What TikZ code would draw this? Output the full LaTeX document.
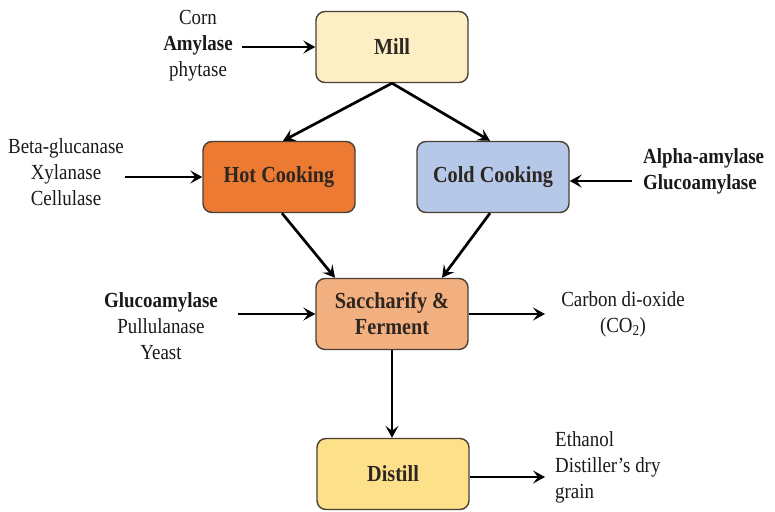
\documentclass[tikz,border=0pt]{standalone}
\usepackage{fontspec}
\setmainfont{Liberation Serif}
\newfontfamily\narrowserif[FakeStretch=0.88,Ligatures=TeX]{Liberation Serif}
\usetikzlibrary{arrows.meta}
\definecolor{millfill}{HTML}{FCEFC6}
\definecolor{hotfill}{HTML}{EC7A33}
\definecolor{coldfill}{HTML}{B5C8E8}
\definecolor{sacfill}{HTML}{F2AF80}
\definecolor{distfill}{HTML}{FDE08A}
\definecolor{boxline}{HTML}{4A3F35}
\definecolor{boxtext}{HTML}{2E2620}
\begin{document}
\begin{tikzpicture}[x=1pt,y=-1pt,
  stage/.style={draw=boxline, line width=1.4pt, rounded corners=9pt,
    minimum width=152pt, minimum height=71pt, inner sep=0pt,
    font=\narrowserif\fontsize{23}{26}\selectfont\bfseries, text=boxtext, align=center},
  label/.style={font=\narrowserif\fontsize{21.5}{26}\selectfont, text=black!90, align=center, inner sep=0pt},
  flow/.style={line width=2.7pt, -{Stealth[length=12pt,width=13pt,inset=5pt]}}]
\useasboundingbox (0,0) rectangle (775,511);

% process stages
\node[stage, fill=millfill] (mill) at (392,47) {Mill};
\node[stage, fill=hotfill] (hot) at (279,177) {Hot Cooking};
\node[stage, fill=coldfill] (cold) at (493,177) {Cold Cooking};
\node[stage, fill=sacfill] (sac) at (392,314) {Saccharify \&\\Ferment};
\node[stage, fill=distfill] (dist) at (393,474) {Distill};

% inputs and outputs
\node[label] (inmill) at (198,46) {Corn\\\textbf{Amylase}\\phytase};
\node[label] (inhot) at (66,172) {Beta-glucanase\\Xylanase\\Cellulase};
\node[label, anchor=west, align=left] (incold) at (643,171) {\textbf{Alpha-amylase}\\\textbf{Glucoamylase}};
\node[label] (insac) at (161,326) {\textbf{Glucoamylase}\\Pullulanase\\Yeast};
\node[label] (outsac) at (623,314) {Carbon di-oxide\\(CO\textsubscript{2})};
\node[label, anchor=west, align=left] (outdist) at (555,467) {Ethanol\\Distiller’s dry\\grain};

% connectors
\coordinate (a1) at (242,47);
\coordinate (a2) at (125,177);
\coordinate (a3) at (632,181);
\coordinate (a4) at (238,314);
\coordinate (a5) at (545,314);
\coordinate (a6) at (545,477);
\draw[flow] (a1) -- (mill.west);
\draw[flow] (a2) -- (hot.west);
\draw[flow] (a3) -- (cold.east |- a3);
\draw[flow] (a4) -- (sac.west);
\draw[flow] (sac.east) -- (a5);
\draw[flow] (dist.east |- a6) -- (a6);
\draw[flow] (mill.south) -- ([xshift=4pt]hot.north);
\draw[flow] (mill.south) -- ([xshift=-3pt]cold.north);
\draw[flow] ([xshift=3pt]hot.south) -- ([xshift=-57pt]sac.north);
\draw[flow] ([xshift=-3pt]cold.south) -- ([xshift=50pt]sac.north);
\draw[flow] (sac.south) -- (dist.north -| sac.south);
\end{tikzpicture}
\end{document}
